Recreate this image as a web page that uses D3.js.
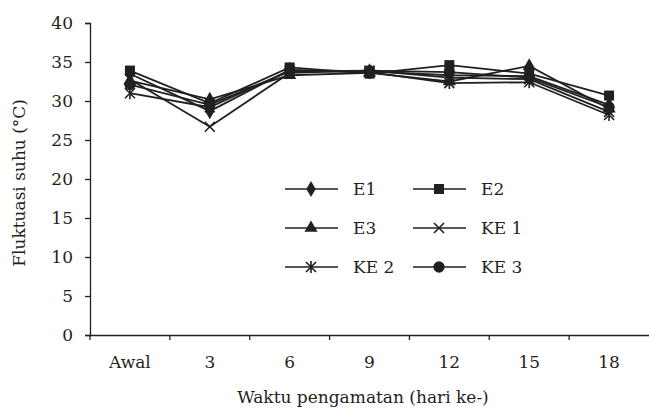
<!DOCTYPE html>
<html>
<head>
<meta charset="utf-8">
<script src="https://cdn.jsdelivr.net/npm/d3@7"></script>
<style>
  body { margin: 0; background: #fff; }
  text { font-family: "DejaVu Serif", "Liberation Serif", serif; fill: #231f20; }
</style>
</head>
<body>
<div id="chart"></div>
<script>
var width = 649,
    height = 414;

// Data
const days = ["Awal", "3", "6", "9", "12", "15", "18"];
const seriesNames = ["E1", "E2", "E3", "KE 1", "KE 2", "KE 3"];
const E1  = [33.5, 28.7, 34.0, 33.8, 33.3, 33.2, 29.5];
const E2  = [33.9, 29.7, 34.3, 33.5, 34.6, 33.5, 30.7];
const E3  = [32.6, 30.2, 33.3, 33.6, 32.5, 34.5, 29.0];
const KE1 = [32.8, 26.7, 33.6, 33.9, 33.0, 32.8, 28.6];
const KE2 = [31.0, 29.2, 33.9, 33.7, 32.3, 32.4, 28.2];
const KE3 = [32.1, 29.5, 33.8, 33.9, 33.7, 33.0, 29.2];
const yTicks = [0, 5, 10, 15, 20, 25, 30, 35, 40];

const allSeries = [E1, E2, E3, KE1, KE2, KE3];
const markers = ["diamond", "square", "triangle", "times", "asterisk", "circle"];
const ink = "#231f20";
const fontFam = "DejaVu Serif";

var svg = d3.select("#chart").append("svg")
    .attr("width", width)
    .attr("height", height);

var x = d3.scaleBand().domain(days).range([90, 649]).padding(0);
var y = d3.scaleLinear().domain([0, 40]).range([335, 23]);

// marker path
function markerPath(type) {
    if (type == "diamond") return d3.symbol().type(d3.symbolDiamond).size(75)();
    if (type == "square") return d3.symbol().type(d3.symbolSquare).size(100)();
    if (type == "triangle") return d3.symbol().type(d3.symbolTriangle).size(75)();
    if (type == "circle") return d3.symbol().type(d3.symbolCircle).size(100)();
    var p = d3.path(), r = 5;
    p.moveTo(-r, -r); p.lineTo(r, r);
    p.moveTo(-r, r); p.lineTo(r, -r);
    if (type == "asterisk") { p.moveTo(0, -r * 1.2); p.lineTo(0, r * 1.2); }
    return p.toString();
}
function drawMarker(sel, type) {
    var stroked = (type == "times" || type == "asterisk");
    sel.append("path")
        .attr("d", markerPath(type))
        .attr("fill", stroked ? "none" : ink)
        .attr("stroke", stroked ? ink : "none")
        .attr("stroke-width", 1.6);
}

// Y axis
var yAxis = d3.axisLeft(y).tickValues(yTicks).tickSize(5).tickPadding(12);
var gy = svg.append("g").attr("transform", "translate(90,0)").call(yAxis);
gy.select(".domain").attr("stroke", ink).attr("stroke-width", 1.3);
gy.selectAll(".tick line").attr("stroke", ink).attr("stroke-width", 1.3);
gy.selectAll(".tick text").attr("font-size", 17).attr("fill", ink)
    .style("font-family", fontFam);

// X axis (labels centred, ticks between categories)
var xAxis = d3.axisBottom(x).tickSize(0).tickPadding(21);
var gx = svg.append("g").attr("transform", "translate(0,335)").call(xAxis);
gx.select(".domain").attr("stroke", ink).attr("stroke-width", 1.3);
gx.selectAll(".tick text").attr("font-size", 17).attr("fill", ink)
    .style("font-family", fontFam);
gx.selectAll(".bandtick")
    .data(days)
    .enter().append("line")
    .attr("x1", d => x(d)).attr("x2", d => x(d))
    .attr("y1", 0).attr("y2", 5)
    .attr("stroke", ink).attr("stroke-width", 1.3);

// Axis titles
svg.append("text")
    .attr("transform", "translate(25," + y(19.5) + ") rotate(-90)")
    .attr("text-anchor", "middle")
    .attr("font-size", 17)
    .text("Fluktuasi suhu (°C)");

svg.append("text")
    .attr("x", 363).attr("y", 403)
    .attr("text-anchor", "middle")
    .attr("font-size", 17)
    .text("Waktu pengamatan (hari ke-)");

// Lines and markers
var line = d3.line()
    .x((d, i) => x(days[i]) + x.bandwidth() / 2)
    .y(d => y(d));

allSeries.forEach(function(values, s) {
    svg.append("path")
        .attr("d", line(values))
        .attr("fill", "none")
        .attr("stroke", ink)
        .attr("stroke-width", 1.8);
});
allSeries.forEach(function(values, s) {
    values.forEach(function(v, i) {
        var g = svg.append("g")
            .attr("transform", "translate(" + (x(days[i]) + x.bandwidth() / 2) + "," + y(v) + ")");
        drawMarker(g, markers[s]);
    });
});

// Legend
var legendX = [285, 413], legendY = [189, 228, 267];
seriesNames.forEach(function(name, s) {
    var lx = legendX[s % 2], ly = legendY[Math.floor(s / 2)];
    var g = svg.append("g").attr("transform", "translate(" + lx + "," + ly + ")");
    g.append("line").attr("x1", 0).attr("x2", 53).attr("y1", 0).attr("y2", 0)
        .attr("stroke", ink).attr("stroke-width", 1.6);
    var m = g.append("g").attr("transform", "translate(26,0)");
    drawMarker(m, markers[s]);
    g.append("text").attr("x", 68).attr("y", 0).attr("dy", "0.36em")
        .attr("font-size", 17).text(name);
});
</script>
</body>
</html>
